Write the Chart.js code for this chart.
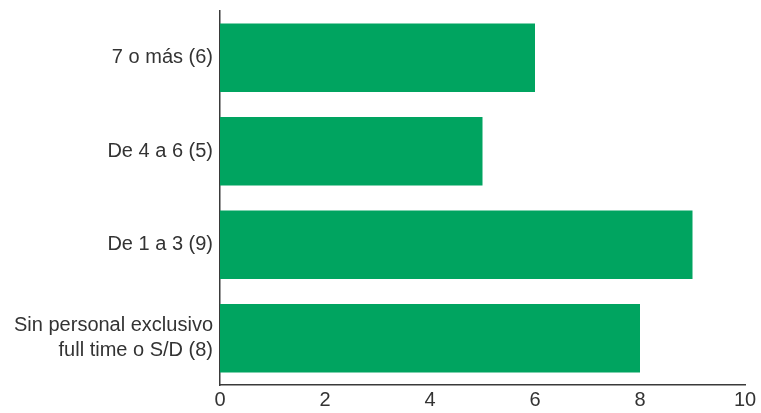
<!DOCTYPE html>
<html>
<head>
<meta charset="utf-8">
<script src="https://cdn.jsdelivr.net/npm/chart.js@4/dist/chart.umd.min.js"></script>
<style>
  html, body { margin: 0; padding: 0; background: #fff; }
  #wrap { width: 761px; height: 413px; }
</style>
</head>
<body>
<div id="wrap"><canvas id="myChart"></canvas></div>
<script>
const categories = [
    "7 o más (6)",
    "De 4 a 6 (5)",
    "De 1 a 3 (9)",
    ["Sin personal exclusivo", "full time o S/D (8)"]
]
const values = [6, 5, 9, 8]
const xTicks = [0, 2, 4, 6, 8, 10]

const green = "#00a460"
const textGray = "#333333"

const ctx = document.getElementById("myChart")
new Chart(ctx, {
    type: "bar",
    data: {
        labels: categories,
        datasets: [{
            data: values,
            backgroundColor: green,
            borderWidth: 0,
            barPercentage: 0.735,
            categoryPercentage: 1
        }]
    },
    options: {
        indexAxis: "y",
        responsive: true,
        maintainAspectRatio: false,
        animation: false,
        layout: { padding: { top: 11, right: 16, left: 0, bottom: 0 } },
        plugins: {
            legend: { display: false },
            tooltip: { enabled: false }
        },
        scales: {
            x: {
                min: 0,
                max: 10,
                afterBuildTicks: (axis) => { axis.ticks = xTicks.map(v => ({ value: v })) },
                afterFit: (axis) => { axis.height = 28; axis.paddingLeft = 0; axis.paddingRight = 0 },
                grid: { display: false, drawTicks: false },
                border: { display: true, color: "#3a3a3a", width: 1.5 },
                ticks: {
                    color: textGray,
                    padding: 3,
                    maxRotation: 0,
                    font: { family: "Liberation Sans", size: 20 }
                }
            },
            y: {
                afterFit: (axis) => { axis.width = 220; axis.paddingTop = 0; axis.paddingBottom = 0 },
                grid: { display: false, drawTicks: false },
                border: { display: true, color: "#3a3a3a", width: 1.5 },
                ticks: {
                    color: textGray,
                    padding: 7,
                    font: { family: "Liberation Sans", size: 20, lineHeight: 1.25 }
                }
            }
        }
    }
})
</script>
</body>
</html>
